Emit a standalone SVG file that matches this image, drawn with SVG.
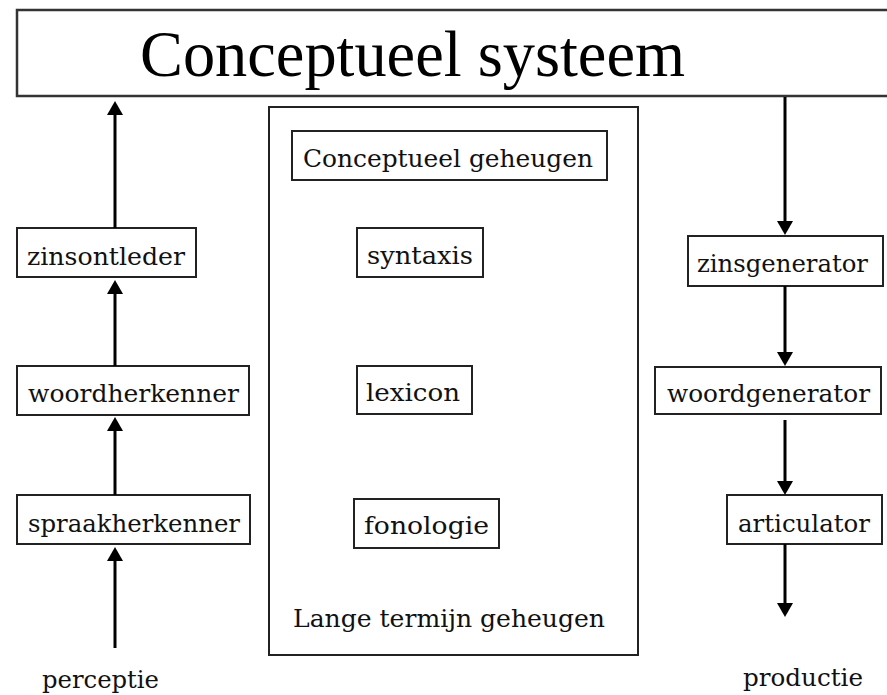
<svg xmlns="http://www.w3.org/2000/svg" width="887" height="695" viewBox="0 0 887 695">
<style>
  .box { fill: #ffffff; stroke: #222222; stroke-width: 2; }
  .big { fill: #ffffff; stroke: #333333; stroke-width: 2.5; }
  .lbl { font-family: "DejaVu Serif", "Liberation Serif", serif; font-size: 24px; fill: #111111; }
  .title { font-family: "Liberation Serif", "Times New Roman", serif; font-size: 65px; fill: #000000; }
  .conn { stroke: #000000; stroke-width: 3; fill: none; marker-end: url(#ah); }
</style>
<defs>
  <marker id="ah" markerUnits="userSpaceOnUse" viewBox="0 0 14 16" markerWidth="14" markerHeight="16" refX="10" refY="8" orient="auto">
    <path d="M0,0 L14,8 L0,16 Z" fill="#000000"/>
  </marker>
</defs>
<rect width="887" height="695" fill="#ffffff"/>

<g id="conceptueel-systeem">
  <rect class="big" x="17" y="10" width="880" height="86"/>
  <text class="title" x="140" y="76" textLength="545" lengthAdjust="spacingAndGlyphs">Conceptueel systeem</text>
</g>

<g id="lange-termijn-geheugen">
  <rect class="box" x="269" y="107" width="369" height="548"/>
  <text class="lbl" x="293" y="627" textLength="312" lengthAdjust="spacingAndGlyphs">Lange termijn geheugen</text>
</g>

<g id="conceptueel-geheugen">
  <rect class="box" x="292" y="131" width="315" height="49"/>
  <text class="lbl" x="303" y="167" textLength="290" lengthAdjust="spacingAndGlyphs">Conceptueel geheugen</text>
</g>
<g id="syntaxis">
  <rect class="box" x="357" y="228" width="126" height="49"/>
  <text class="lbl" x="367" y="264" textLength="106" lengthAdjust="spacingAndGlyphs">syntaxis</text>
</g>
<g id="lexicon">
  <rect class="box" x="357" y="366" width="115" height="48"/>
  <text class="lbl" x="366" y="401" textLength="94" lengthAdjust="spacingAndGlyphs">lexicon</text>
</g>
<g id="fonologie">
  <rect class="box" x="354" y="499" width="145" height="49"/>
  <text class="lbl" x="364" y="534" textLength="125" lengthAdjust="spacingAndGlyphs">fonologie</text>
</g>

<g id="zinsontleder">
  <rect class="box" x="17" y="228" width="179" height="49"/>
  <text class="lbl" x="27" y="265" textLength="158" lengthAdjust="spacingAndGlyphs">zinsontleder</text>
</g>
<g id="woordherkenner">
  <rect class="box" x="17" y="366" width="232" height="49"/>
  <text class="lbl" x="28" y="402" textLength="211" lengthAdjust="spacingAndGlyphs">woordherkenner</text>
</g>
<g id="spraakherkenner">
  <rect class="box" x="17" y="495" width="233" height="49"/>
  <text class="lbl" x="28" y="532" textLength="212" lengthAdjust="spacingAndGlyphs">spraakherkenner</text>
</g>
<g id="perceptie">
  <text class="lbl" x="42" y="688" textLength="117" lengthAdjust="spacingAndGlyphs">perceptie</text>
</g>

<g id="zinsgenerator">
  <rect class="box" x="688" y="236" width="195" height="50"/>
  <text class="lbl" x="697" y="272" textLength="171" lengthAdjust="spacingAndGlyphs">zinsgenerator</text>
</g>
<g id="woordgenerator">
  <rect class="box" x="655" y="367" width="226" height="47"/>
  <text class="lbl" x="667" y="402" textLength="203" lengthAdjust="spacingAndGlyphs">woordgenerator</text>
</g>
<g id="articulator">
  <rect class="box" x="727" y="495" width="155" height="49"/>
  <text class="lbl" x="738" y="532" textLength="132" lengthAdjust="spacingAndGlyphs">articulator</text>
</g>
<g id="productie">
  <text class="lbl" x="743" y="686" textLength="120" lengthAdjust="spacingAndGlyphs">productie</text>
</g>

<g id="connectors">
  <line class="conn" x1="115" y1="228" x2="115" y2="105"/>
  <line class="conn" x1="115" y1="366" x2="115" y2="284"/>
  <line class="conn" x1="115" y1="495" x2="115" y2="421"/>
  <line class="conn" x1="115" y1="648" x2="115" y2="551"/>
  <line class="conn" x1="785" y1="97" x2="785" y2="231"/>
  <line class="conn" x1="785" y1="286" x2="785" y2="362"/>
  <line class="conn" x1="785" y1="420" x2="785" y2="491"/>
  <line class="conn" x1="785" y1="544" x2="785" y2="613"/>
</g>
</svg>
